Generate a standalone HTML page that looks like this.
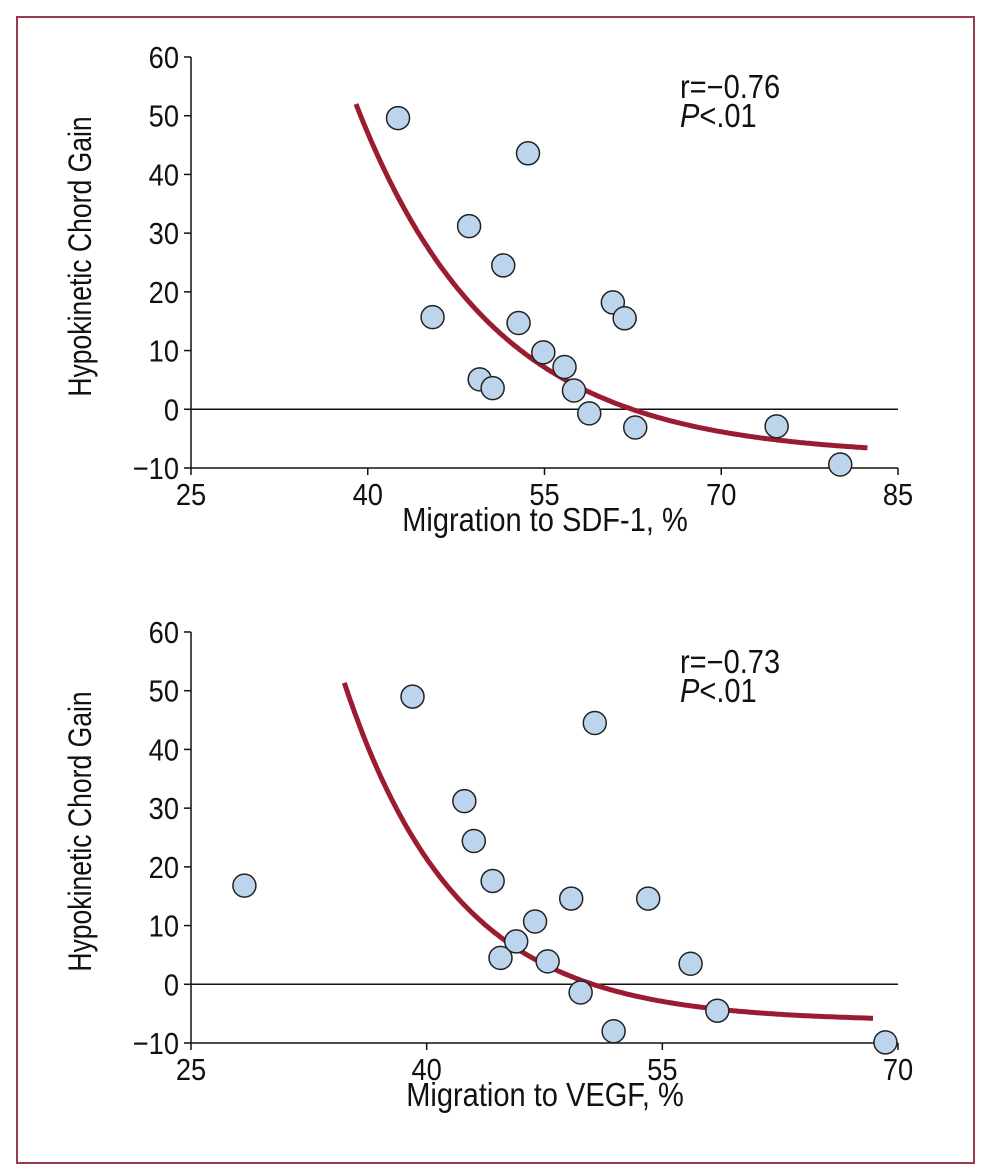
<!DOCTYPE html>
<html><head><meta charset="utf-8">
<style>
html,body{margin:0;padding:0;background:#fff;}
svg{display:block;}
text{font-family:"Liberation Sans Narrow","Liberation Sans",sans-serif;fill:#111;}
</style></head>
<body>
<svg id="fig" width="991" height="1175" viewBox="0 0 991 1175">
<rect x="17" y="17" width="957" height="1146" fill="none" stroke="#9b3a4a" stroke-width="2"/>
</svg>
<script>
// Panel A data (SDF-1)
const xA = [42.57,53.6,48.6,51.5,45.5,52.8,60.8,61.8,54.9,56.7,49.5,50.6,57.5,58.8,62.7,74.7,80.1];
const yA = [49.6,43.6,31.2,24.5,15.7,14.7,18.2,15.5,9.7,7.2,5.1,3.6,3.2,-0.7,-3.1,-2.9,-9.4];
const xTicksA = [25,40,55,70,85];
const yTicks = [-10,0,10,20,30,40,50,60];
// exponential fit: y = A*exp(-k*(x - x0)) + C  -> [A, k, x0, C]
const fitA = [60, 0.086, 39, -8];
const rangeA = [39.0, 82.4];
// Panel B data (VEGF)
const xB = [28.4,39.1,42.4,43.0,44.2,44.7,45.7,46.9,47.7,49.2,49.8,50.7,51.9,54.1,56.8,58.5,69.2];
const yB = [16.8,49.0,31.2,24.4,17.6,4.5,7.3,10.7,3.9,14.6,-1.4,44.5,-8.0,14.6,3.5,-4.5,-9.9];
const xTicksB = [25,40,55,70];
const fitB = [25.2, 0.14, 40.67, -6.3];
const rangeB = [34.76, 68.41];

const NS="http://www.w3.org/2000/svg";
const svg=document.getElementById('fig');
function mk(tag,attrs,parent){const e=document.createElementNS(NS,tag);for(const k in attrs)e.setAttribute(k,attrs[k]);(parent||svg).appendChild(e);return e;}
function txt(x,y,size,anchor,parent,rot,s){
  const tr=rot?`translate(${x},${y}) rotate(-90) scale(${s},1)`:`translate(${x},${y}) scale(${s},1)`;
  return mk('text',{x:0,y:0,'font-size':size,'text-anchor':anchor,transform:tr},parent);
}

function panel(id,top,xs,ys,xt,fit,range,xlabel,rtext){
  const g=mk('g',{});
  
  
  const L=191,R=898,T=top,B=top+411;
  const x0=xt[0],x1=xt[xt.length-1];
  const sx=v=>L+(v-x0)/(x1-x0)*(R-L);
  const sy=v=>B-(v+10)/70*(B-T);
  const ya=mk('line',{x1:L,y1:T,x2:L,y2:B,stroke:'#111','stroke-width':1.5},g);
  
  
  const xa=mk('line',{x1:L,y1:B,x2:R,y2:B,stroke:'#111','stroke-width':1.5},g);
  
  
  const zl=mk('line',{x1:L,y1:sy(0),x2:R,y2:sy(0),stroke:'#111','stroke-width':1.5},g);
  
  
  yTicks.forEach(v=>{
    mk('line',{x1:L-7,y1:sy(v),x2:L,y2:sy(v),stroke:'#111','stroke-width':1.5},g);
    const t=txt(L-12,sy(v)+11,31,'end',g,false,0.88);
    t.textContent=v<0?'\u2212'+(-v):v;
    
    
  });
  xt.forEach(v=>{
    mk('line',{x1:sx(v),y1:B,x2:sx(v),y2:B+7,stroke:'#111','stroke-width':1.5},g);
    const t=txt(sx(v),B+37,31,'middle',g,false,0.88);
    t.textContent=v;
    
    
  });
  const xl=txt(545,B+63,33,'middle',g,false,0.88);
  xl.textContent=xlabel;
  
  
  const yl=txt(91,(T+B)/2-6,32,'middle',g,true,0.83);
  yl.textContent='Hypokinetic Chord Gain';
  
  
  let d='';
  for(let i=0;i<=200;i++){const v=range[0]+(range[1]-range[0])*i/200;const w=fit[0]*Math.exp(-fit[1]*(v-fit[2]))+fit[3];d+=(i?'L':'M')+sx(v).toFixed(1)+' '+sy(w).toFixed(1);}
  const c=mk('path',{d:d,fill:'none',stroke:'#9b1c31','stroke-width':5},g);
  
  
  xs.forEach((v,i)=>{
    const p=mk('circle',{cx:sx(v),cy:sy(ys[i]),r:11.5,fill:'#bcd4ec',stroke:'#222','stroke-width':1.5},g);
    
    
  });
  const r=txt(680,T+41,33,'start',g,false,0.88);
  r.textContent=rtext;
  
  
  const pv=txt(680,T+70,33,'start',g,false,0.88);
  pv.innerHTML='<tspan font-style="italic">P</tspan>&lt;.01';
  
  
}
panel('sdf1',57,xA,yA,xTicksA,fitA,rangeA,'Migration to SDF-1, %','r=\u22120.76');
panel('vegf',632,xB,yB,xTicksB,fitB,rangeB,'Migration to VEGF, %','r=\u22120.73');
</script>
</body></html>
